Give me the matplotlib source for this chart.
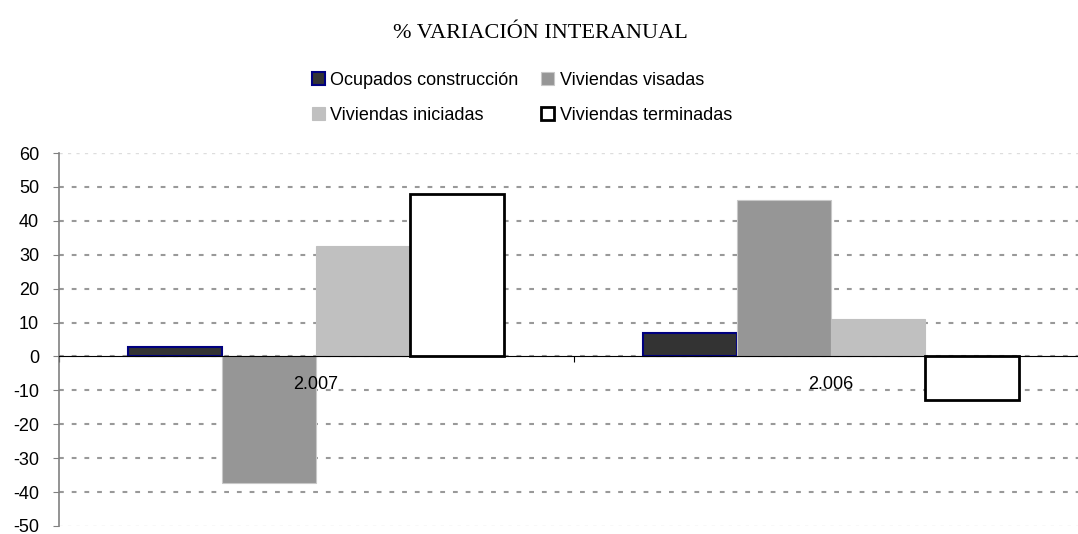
import matplotlib.pyplot as plt
import numpy as np

# data
years = ["2.007", "2.006"]
series = ["Ocupados construcción", "Viviendas visadas",
          "Viviendas iniciadas", "Viviendas terminadas"]
ocupados = [2.9, 7.0]
visadas = [-37.2, 46.0]
iniciadas = [32.6, 11.1]
terminadas = [47.8, -12.9]
yticks = [60, 50, 40, 30, 20, 10, 0, -10, -20, -30, -40, -50]

plt.rcParams['font.family'] = ['Liberation Sans', 'DejaVu Sans']
plt.rcParams['axes.unicode_minus'] = False

fig = plt.figure(figsize=(10.78, 5.34), dpi=100)
ax = fig.add_axes([58.5 / 1078, 8 / 534, 1030 / 1078, 373 / 534])

x = np.arange(len(years))
w = 0.1825
styles = [
    dict(color='#333333', edgecolor='#000080', linewidth=1.5),
    dict(color='#969696', edgecolor='#c8c8c8', linewidth=0.8),
    dict(color='#c0c0c0', edgecolor='#c0c0c0', linewidth=0.8),
    dict(color='white', edgecolor='black', linewidth=2),
]
values = [ocupados, visadas, iniciadas, terminadas]
handles = []
for i, (vals, st) in enumerate(zip(values, styles)):
    b = ax.bar(x + (i - 1.5) * w, vals, w, label=series[i], zorder=3, **st)
    handles.append(b)

ax.set_xlim(-0.5, 1.5)
ax.set_ylim(-50, 60)
ax.set_yticks(yticks)
ax.yaxis.grid(True, color='#999999', linestyle=(0, (2.3, 3.8)), linewidth=1.5, zorder=0)
glines = ax.get_ygridlines()
for gl in (glines[0], glines[-1]):
    gl.set_color('#dddddd')
    gl.set_linewidth(1.0)
ax.tick_params(axis='y', labelsize=13, length=4, pad=10, color='#808080', direction='out')

for s in ['top', 'right']:
    ax.spines[s].set_visible(False)
ax.spines['left'].set_color('#808080')
ax.spines['left'].set_linewidth(1.2)
ax.spines['bottom'].set_position(('data', 0))
ax.spines['bottom'].set_color('black')
ax.spines['bottom'].set_zorder(4)
ax.set_xticks([-0.5, 0.5, 1.5])
ax.set_xticklabels([])
ax.tick_params(axis='x', length=4, direction='out', color='black')

for xi, yr in zip(x, years):
    ax.annotate(yr, (xi, 0), xytext=(0, -20), textcoords='offset points',
                ha='center', va='center', fontsize=13, zorder=5)

order = [0, 2, 1, 3]
leg = fig.legend([handles[i] for i in order], [series[i] for i in order],
                 ncol=2, loc='center', bbox_to_anchor=(522 / 1078, 1 - 98 / 534),
                 frameon=False, fontsize=13, handlelength=0.72, handleheight=0.72,
                 handletextpad=0.3, columnspacing=1.25, labelspacing=1.0)

fig.text(540 / 1078, 1 - 33 / 534, "% VARIACIÓN INTERANUAL", ha='center', va='center',
         fontsize=16, family=['Liberation Serif', 'DejaVu Serif'])

fig.savefig("out.png", dpi=100)
